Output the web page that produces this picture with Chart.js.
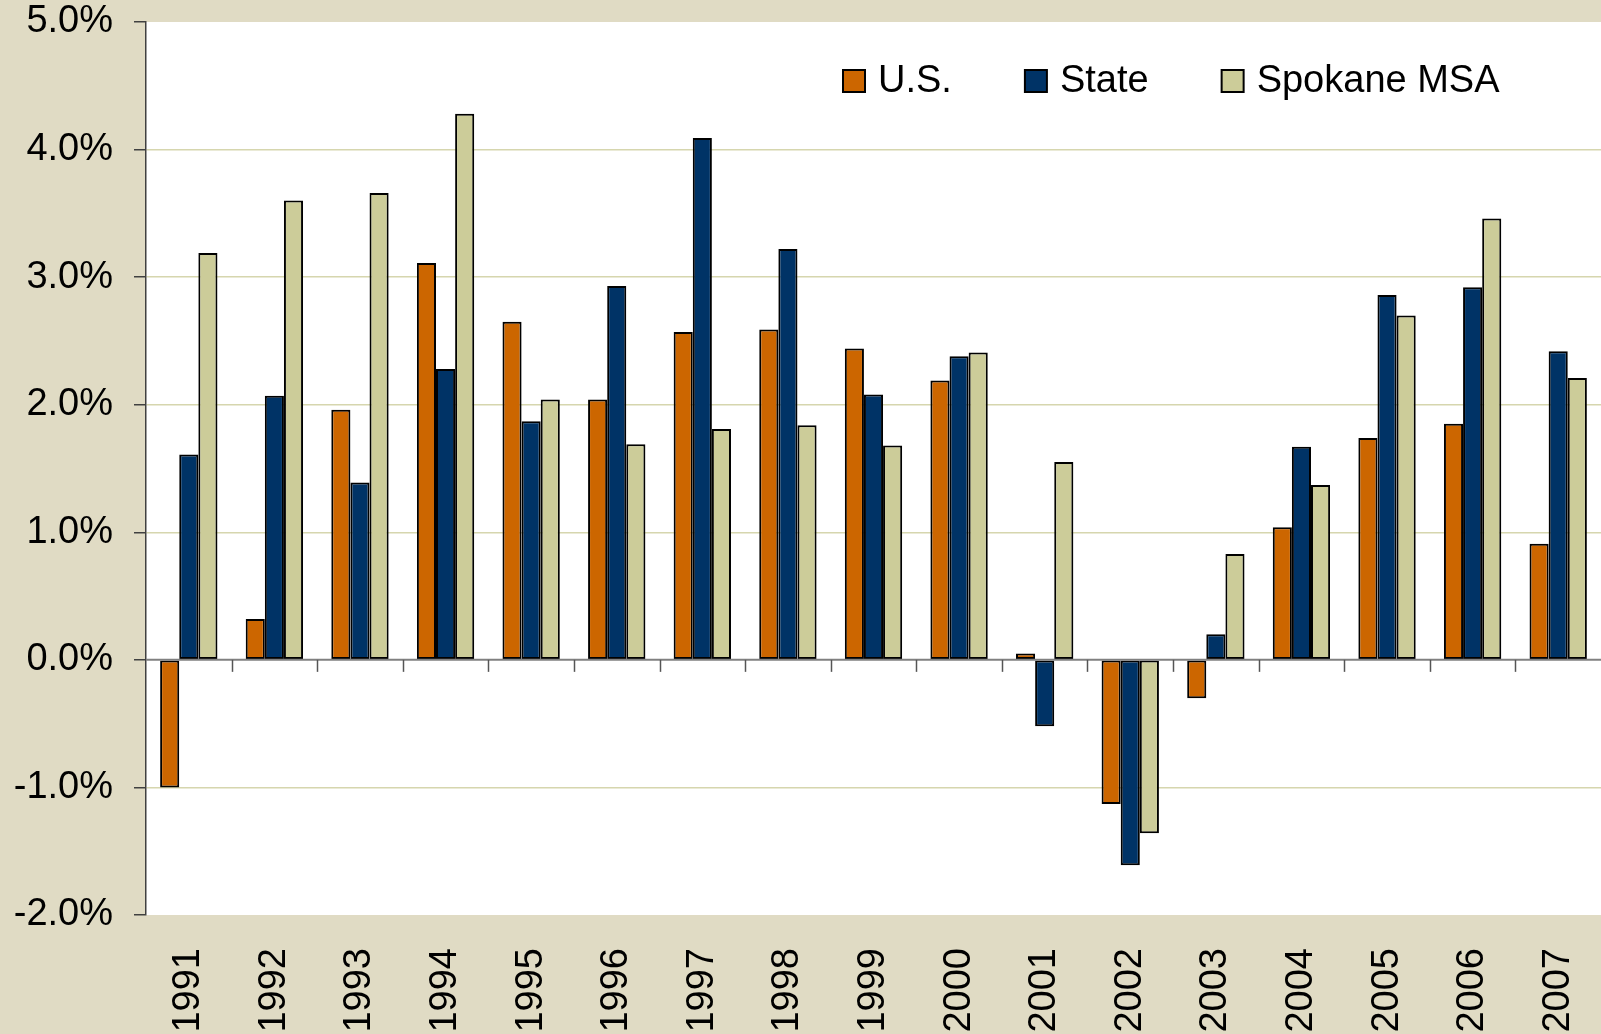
<!DOCTYPE html>
<html>
<head>
<meta charset="utf-8">
<script src="https://cdn.jsdelivr.net/npm/chart.js@4.4.1/dist/chart.umd.min.js"></script>
<style>
  html, body { margin: 0; padding: 0; background: #E0DBC4; }
  .wrap { width: 1601px; height: 1034px; position: relative; }
</style>
</head>
<body>
<div class="wrap"><canvas id="growthChart"></canvas></div>
<script>
const years = ['1991','1992','1993','1994','1995','1996','1997','1998','1999','2000','2001','2002','2003','2004','2005','2006','2007'];
const usGrowth = [-1.00, 0.32, 1.96, 3.11, 2.65, 2.04, 2.57, 2.59, 2.44, 2.19, 0.05, -1.13, -0.30, 1.04, 1.74, 1.85, 0.91];
const stateGrowth = [1.61, 2.07, 1.39, 2.28, 1.87, 2.93, 4.09, 3.22, 2.08, 2.38, -0.52, -1.61, 0.20, 1.67, 2.86, 2.92, 2.42];
const spokaneGrowth = [3.19, 3.60, 3.66, 4.28, 2.04, 1.69, 1.81, 1.84, 1.68, 2.41, 1.55, -1.36, 0.83, 1.37, 2.70, 3.46, 2.21];
const yTicks = [-2, -1, 0, 1, 2, 3, 4, 5];

const FONT = "'Liberation Sans', Arial, sans-serif";

// white plot background, running to the right edge like the original
const plotBg = {
    id: 'plotBg',
    beforeDraw(chart) {
        const { ctx, chartArea } = chart;
        ctx.save();
        ctx.fillStyle = '#ffffff';
        ctx.fillRect(chartArea.left, chartArea.top, chart.width - chartArea.left, chartArea.bottom - chartArea.top);
        ctx.restore();
    }
};

// zero line with category tick marks, drawn over the bars
const zeroAxis = {
    id: 'zeroAxis',
    afterDatasetsDraw(chart) {
        const { ctx, chartArea, scales: { x, y } } = chart;
        const y0 = y.getPixelForValue(0);
        ctx.save();
        ctx.strokeStyle = '#808080';
        ctx.lineWidth = 2;
        ctx.beginPath();
        ctx.moveTo(chartArea.left, y0);
        ctx.lineTo(chart.width, y0);
        ctx.stroke();
        ctx.strokeStyle = '#555555';
        ctx.lineWidth = 1.5;
        for (let i = 1; i < years.length; i++) {
            const bx = Math.round((x.getPixelForValue(i - 1) + x.getPixelForValue(i)) / 2) + 0.5;
            ctx.beginPath();
            ctx.moveTo(bx, y0);
            ctx.lineTo(bx, y0 + 12);
            ctx.stroke();
        }
        ctx.restore();
    }
};

// legend inside the plot, top right
const insideLegend = {
    id: 'insideLegend',
    afterDraw(chart) {
        const { ctx } = chart;
        let lx = 843;
        const cy = 81, box = 22;
        ctx.save();
        ctx.font = '38px ' + FONT;
        ctx.textBaseline = 'middle';
        chart.data.datasets.forEach(ds => {
            ctx.fillStyle = ds.backgroundColor;
            ctx.fillRect(lx, cy - box / 2, box, box);
            ctx.strokeStyle = '#000000';
            ctx.lineWidth = 2;
            ctx.strokeRect(lx, cy - box / 2, box, box);
            ctx.fillStyle = '#000000';
            ctx.fillText(ds.label, lx + box + 13, cy + 1);
            lx += box + 13 + ctx.measureText(ds.label).width + 73;
        });
        ctx.restore();
    }
};

const ctx = document.getElementById('growthChart').getContext('2d');
new Chart(ctx, {
    type: 'bar',
    data: {
        labels: years,
        datasets: [
            { label: 'U.S.', data: usGrowth, backgroundColor: '#CC6600' },
            { label: 'State', data: stateGrowth, backgroundColor: '#003366' },
            { label: 'Spokane MSA', data: spokaneGrowth, backgroundColor: '#CCCC99' }
        ].map(d => Object.assign(d, { borderColor: '#000000', borderWidth: 2, borderSkipped: false }))
    },
    options: {
        responsive: true,
        maintainAspectRatio: false,
        animation: false,
        layout: { padding: { top: 22, right: 0, left: 0, bottom: 0 } },
        datasets: { bar: { categoryPercentage: 0.67, barPercentage: 1.0 } },
        plugins: { legend: { display: false }, tooltip: { enabled: false } },
        scales: {
            x: {
                grid: { display: false, drawTicks: false },
                border: { display: false },
                ticks: {
                    color: '#000000',
                    font: { family: FONT, size: 38 },
                    minRotation: 90, maxRotation: 90,
                    padding: 33, autoSkip: false
                },
                afterFit(scale) {
                    scale.height = 119;
                    scale.paddingLeft = 0;
                    scale.paddingRight = 0;
                }
            },
            y: {
                min: -2, max: 5,
                afterBuildTicks(scale) { scale.ticks = yTicks.map(v => ({ value: v })); },
                ticks: {
                    color: '#000000',
                    font: { family: FONT, size: 38 },
                    padding: 21,
                    callback: v => v.toFixed(1) + '%'
                },
                grid: {
                    tickLength: 12,
                    tickColor: '#404040',
                    lineWidth: 1.5,
                    color: c => (c.tick && (c.tick.value === 0 || c.tick.value === 5 || c.tick.value === -2)) ? 'rgba(0,0,0,0)' : '#D6D6AE'
                },
                border: { display: true, color: '#404040', width: 1.5 },
                afterFit(scale) {
                    scale.width = 146;
                    scale.paddingTop = 0;
                    scale.paddingBottom = 0;
                }
            }
        }
    },
    plugins: [plotBg, zeroAxis, insideLegend]
});
</script>
</body>
</html>
